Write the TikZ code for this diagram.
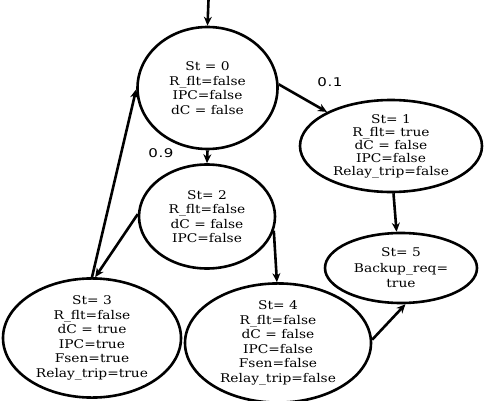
\documentclass[tikz,border=0pt]{standalone}
\usepackage{fontspec}
\setmainfont{DejaVu Serif}[FakeStretch=1.15]
\newfontfamily\lblfont{DejaVu Sans}[LetterSpace=5,FakeStretch=1.25]
\usetikzlibrary{shapes.geometric,arrows.meta}
\begin{document}
\begin{tikzpicture}[x=1pt,y=-1pt,
  st/.style={ellipse,draw,line width=2.6pt,inner sep=0pt,align=center,
    font=\fontsize{12}{14.5}\selectfont},
  arr/.style={line width=2.6pt,-{Stealth[length=9pt,width=8pt]}},
  prob/.style={font=\lblfont\fontsize{12}{12}\selectfont}]
\useasboundingbox (0,0) rectangle (484,401);
\node[st,minimum width=140pt,minimum height=122pt] (s0) at (207.5,88)
  {St = 0\\R\_flt=false\\IPC=false\\dC = false};
\node[st,minimum width=182pt,minimum height=92pt,font=\fontsize{12}{13}\selectfont] (s1) at (391,146)
  {St= 1\\R\_flt= true\\dC = false\\IPC=false\\Relay\_trip=false};
\node[st,minimum width=136pt,minimum height=104pt] (s2) at (207,216.5)
  {St= 2\\R\_flt=false\\dC = false\\IPC=false};
\node[st,minimum width=178pt,minimum height=116pt] (s3) at (92,338)
  {St= 3\\R\_flt=false\\dC = true\\IPC=true\\Fsen=true\\Relay\_trip=true};
\node[st,minimum width=186pt,minimum height=106pt] (s4) at (278,343)
  {St= 4\\R\_flt=false\\dC = false\\IPC=false\\Fsen=false\\Relay\_trip=false};
\node[st,minimum width=152pt,minimum height=70pt,font=\fontsize{12}{15.5}\selectfont] (s5) at (401,268)
  {St= 5\\Backup\_req=\\true};
\coordinate (entry) at (208.5,0);
\draw[arr] (entry) -- (s0.north);
\draw[arr] (s0.3) -- (s1.152);
\draw[arr] (s0.south) -- (s2.north);
\draw[arr] (s2.178) -- (s3.87);
\draw[arr] (s3.90) -- (s0.181);
\draw[arr] (s2.-12) -- (s4.91);
\draw[arr] (s1.-87) -- (s5.97);
\draw[arr] (s4.2) -- (s5.-83);
\node[prob] (p1) at (330,82) {0.1};
\node[prob] (p9) at (161,153) {0.9};
\end{tikzpicture}
\end{document}
